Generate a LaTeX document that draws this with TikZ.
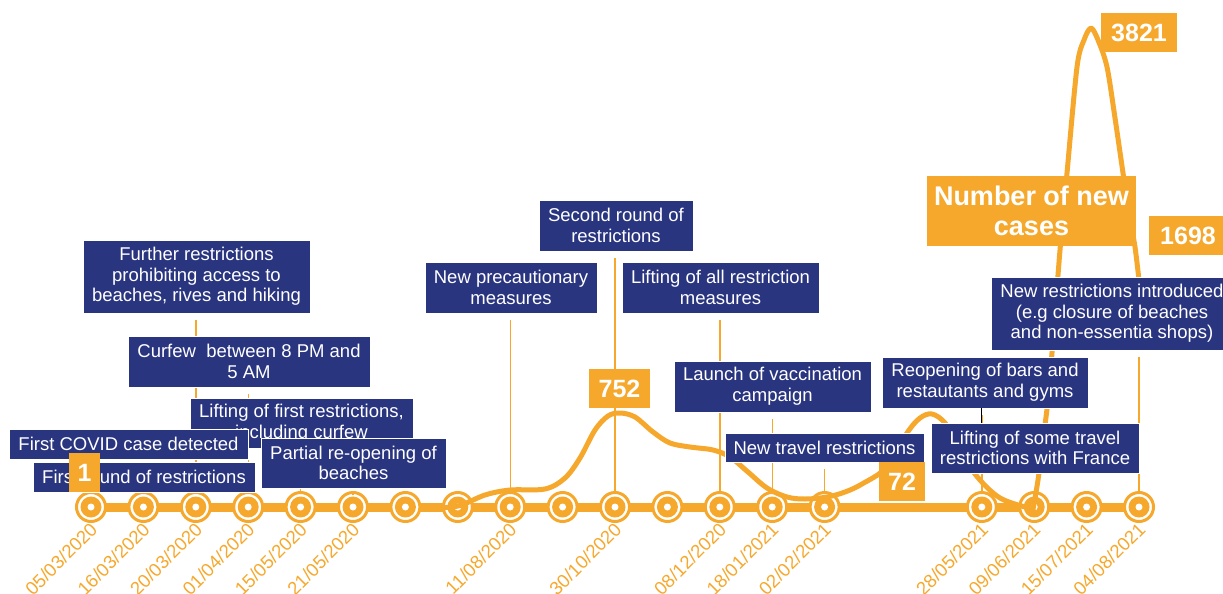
\documentclass[tikz,border=0pt]{standalone}
\usepackage{fontspec}
\setmainfont{Liberation Sans}
\usetikzlibrary{backgrounds}
\definecolor{accent}{RGB}{246,168,44}
\definecolor{navy}{RGB}{42,53,128}

\begin{document}
\begin{tikzpicture}[
  x=1pt, y=-1pt,
  event/.style={fill=navy, draw=white, line width=.8pt, text=white,
                align=center, inner sep=0pt,
                font=\fontsize{18.5}{20.7}\selectfont},
  count/.style={fill=accent, text=white, align=center, inner sep=0pt,
                font=\bfseries\fontsize{25}{28}\selectfont, minimum height=39pt},
  headline/.style={fill=accent, text=white, align=center, inner sep=0pt,
                   font=\bfseries\fontsize{27}{30}\selectfont},
  stem/.style={draw=accent, line width=1.4pt, shorten <=7pt},
  axis/.style={draw=accent, line width=9pt},
  marker/.style={circle, fill=white, draw=accent, line width=3pt,
                 minimum size=29pt, inner sep=0pt,
                 path picture={
                   \fill[accent] (path picture bounding box.center) circle (10.5pt);
                   \fill[white] (path picture bounding box.center) circle (3.5pt);}},
  date/.style={text=accent, rotate=45, anchor=east, inner sep=0pt,
               font=\fontsize{18.5}{18.5}\selectfont},
  cases/.style={draw=accent, line width=5pt, line cap=round, line join=round}
]
\useasboundingbox (0,0) rectangle (1223,594);

% ---------- 2020: first wave ----------
\node[event, minimum width=227pt, minimum height=73pt] (furth) at (196.5,276.5)
  {Further restrictions\\prohibiting access to\\beaches, rives and hiking};
\node[event, minimum width=242pt, minimum height=51pt] (curfew) at (249,361.5)
  {Curfew\ \ between 8 PM and\\5 AM};
\node[event, minimum width=223pt, minimum height=50pt] (liftfirst) at (301.5,423)
  {Lifting of first restrictions,\\including curfew};
\node[event, minimum width=239pt, minimum height=30pt] (firstcase) at (128.5,444)
  {First COVID case detected};
\node[event, minimum width=185pt, minimum height=50pt] (partial) at (353.5,463)
  {Partial re-opening of\\beaches};
\node[event, minimum width=222pt, minimum height=30pt] (firstround) at (144,477)
  {First round of restrictions};
\node[count, minimum width=31pt] (v1) at (84.5,472.5) {1};

% ---------- autumn / winter ----------
\node[event, minimum width=172pt, minimum height=51pt] (precaution) at (511,287.5)
  {New precautionary\\measures};
\node[event, minimum width=154pt, minimum height=51pt] (second) at (616,225.5)
  {Second round of\\restrictions};
\node[event, minimum width=197pt, minimum height=51pt] (liftall) at (720.5,287.5)
  {Lifting of all restriction\\measures};
\node[event, minimum width=197pt, minimum height=51pt] (vaccine) at (772.5,386.5)
  {Launch of vaccination\\campaign};
\node[event, minimum width=199pt, minimum height=29pt] (travel) at (824.5,447.5)
  {New travel restrictions};
\node[count, minimum width=61pt] (v752) at (619.5,388.5) {752};
\node[count, minimum width=46pt] (v72) at (902,481.5) {72};

% ---------- 2021: summer wave ----------
\node[event, minimum width=206pt, minimum height=51pt] (reopen) at (985,382.5)
  {Reopening of bars and\\restautants and gyms};
\node[event, minimum width=208pt, minimum height=50pt] (liftsome) at (1035,448)
  {Lifting of some travel\\restrictions with France};
\node[event, minimum width=242pt, minimum height=73pt] (newrestr) at (1112,313.5)
  {New restrictions introduced\\(e.g closure of beaches\\and non-essentia shops)};
\node[headline, minimum width=209pt, minimum height=70pt] (title) at (1031.5,211)
  {Number of new\\cases};
\node[count, minimum width=76pt] (v3821) at (1139,32.5) {3821};
\node[count, minimum width=78pt] (v1698) at (1188,235.5) {1698};

\begin{scope}[on background layer]
  % timeline with its markers
  \draw[axis] (91,507) -- (1139,507);
  \foreach \k in {0,...,14,17,18,19,20}
    \node[marker] (m\k) at ({91+52.4*\k},507) {};

  % stems from the events down to their dates
  \draw[stem] (v1.south -| m0) -- (m0.north);
  \draw[stem] (firstround.south -| m1) -- (m1.north);
  \draw[stem] (furth.south -| m2) -- (m2.north);
  \draw[stem] (curfew.south -| m3) -- (m3.north);
  \draw[stem] (liftfirst.south -| m4) -- (m4.north);
  \draw[stem] (partial.south -| m5) -- (m5.north);
  \draw[stem] (precaution.south -| m8) -- (m8.north);
  \draw[stem] (second.south -| m10) -- (m10.north);
  \draw[stem] (liftall.south -| m12) -- (m12.north);
  \draw[stem] (vaccine.south -| m13) -- (m13.north);
  \draw[stem] (travel.south -| m14) -- (m14.north);
  \draw[stem] (reopen.south -| m17) -- (m17.north);
  \draw[stem] (newrestr.south -| m20) -- (m20.north);

  % new cases
  \draw[cases] plot[smooth, tension=.55] coordinates {
    (430,508) (458,506) (485,495) (510,490) (545,489) (565,478) (580,458)
    (595,430) (608,416) (620,413) (635,417) (653,432) (670,443) (690,447)
    (713,450) (730,457) (748,472) (767,488) (787,497) (805,499) (827,497)
    (845,492) (862,484) (887,467) (907,433) (920,418) (932,414) (945,423)
    (960,447) (975,474) (1000,498) (1033,509)};
  \draw[cases] plot[smooth, tension=.5] coordinates {
    (1033,509) (1038,480) (1043,440) (1048,400) (1053,340) (1060,250)
    (1067,173) (1077,67) (1084,40) (1091,28) (1098,40) (1107,67)
    (1115,118) (1123,173) (1130,220) (1135,247) (1140,290) (1143,330)};
\end{scope}

\draw[black, line width=.8pt] (reopen.south -| m17) -- (liftsome.north -| m17);

% ---------- dates ----------
\foreach \k/\d in {0/{05/03/2020}, 1/{16/03/2020}, 2/{20/03/2020},
    3/{01/04/2020}, 4/{15/05/2020}, 5/{21/05/2020}, 8/{11/08/2020},
    10/{30/10/2020}, 12/{08/12/2020}, 13/{18/01/2021}, 14/{02/02/2021},
    17/{28/05/2021}, 18/{09/06/2021}, 19/{15/07/2021}, 20/{04/08/2021}}
  \node[date] at ([xshift=3pt, yshift=-19pt]m\k.center) {\d};

\end{tikzpicture}
\end{document}
